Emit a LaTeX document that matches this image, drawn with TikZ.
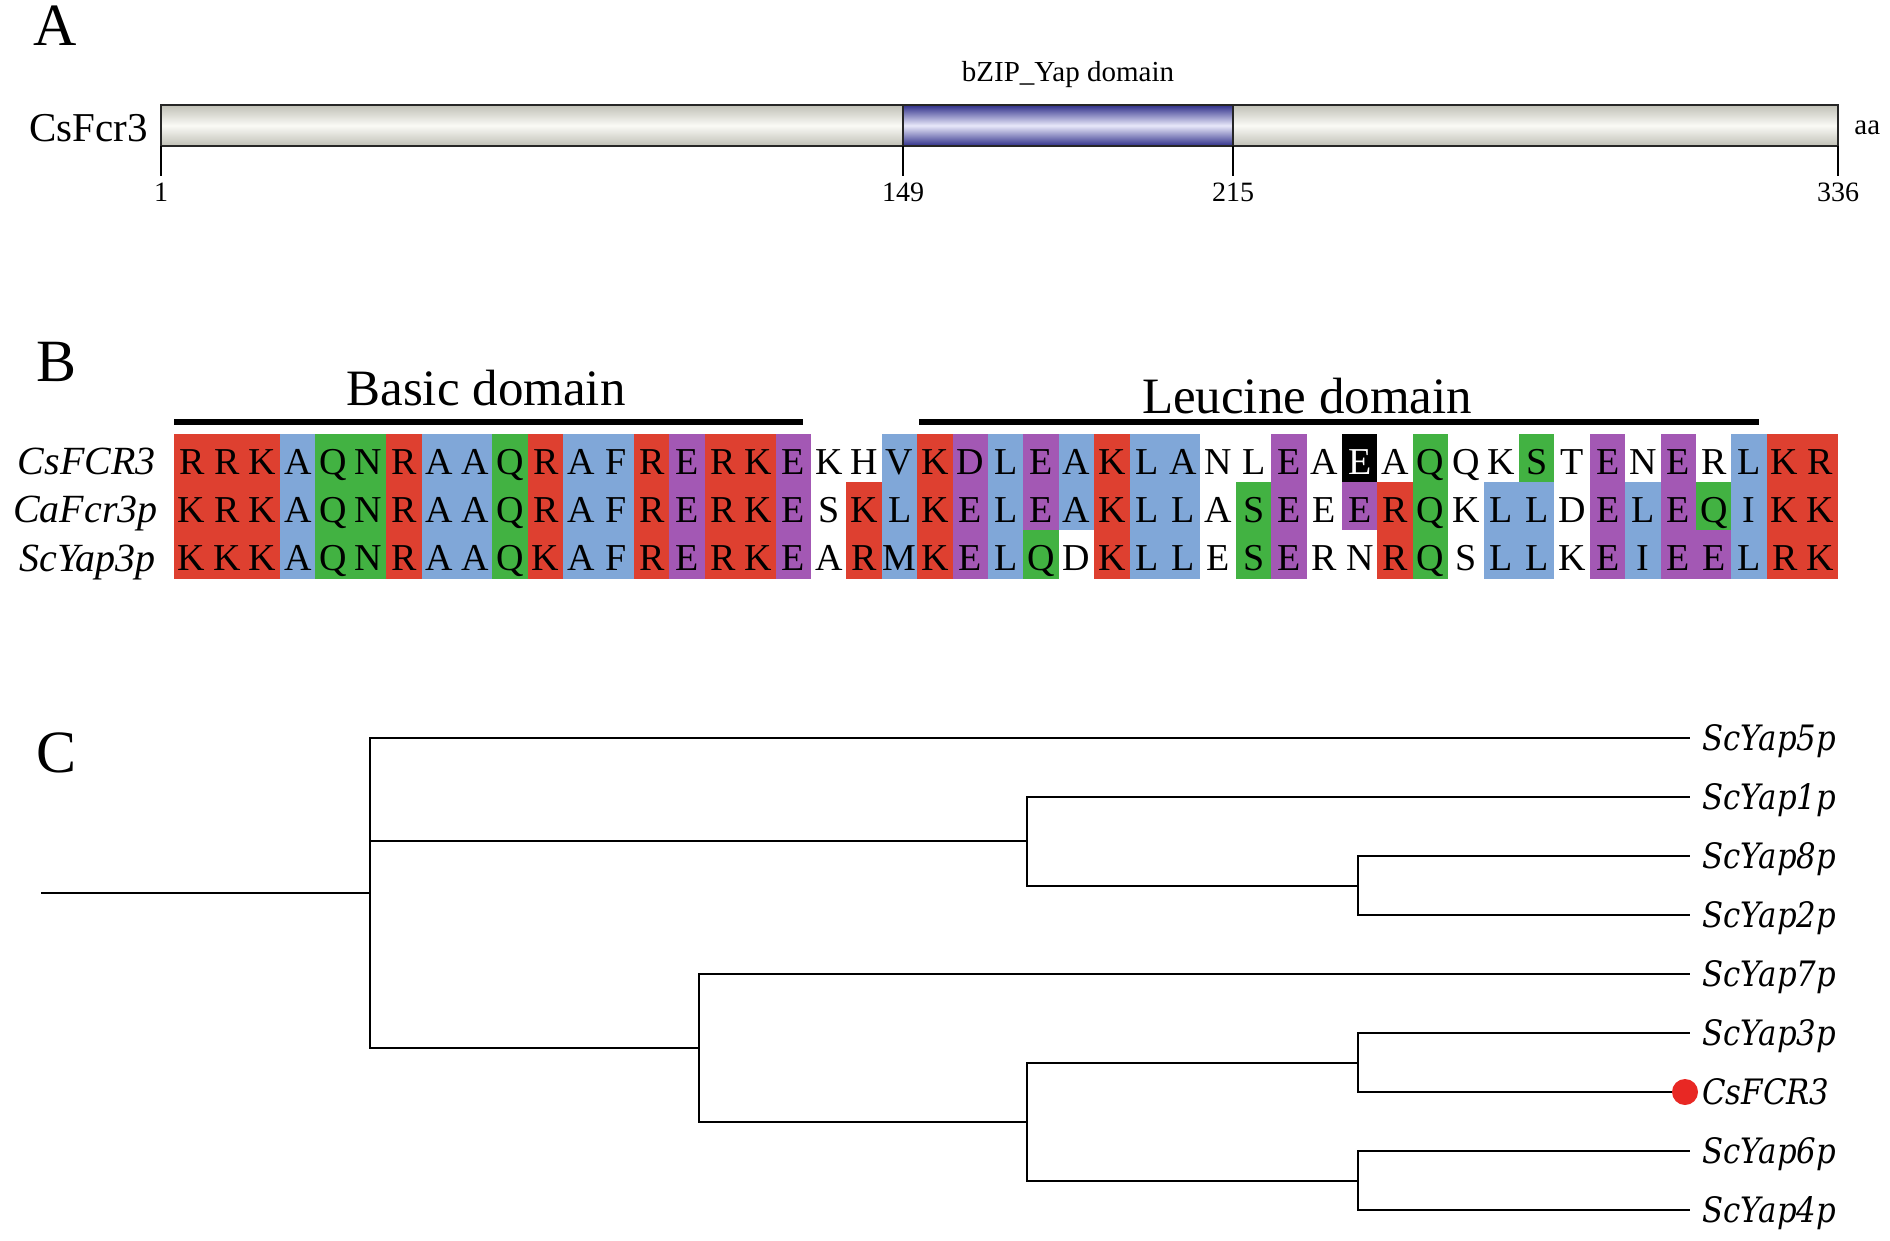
\documentclass[tikz,border=0pt]{standalone}
\usepackage{fontspec}
\setmainfont{Liberation Serif}
\newfontfamily\treefont[FakeStretch=0.88]{DejaVu Serif}
\usepackage{xcolor}
\usetikzlibrary{positioning}

\definecolor{barGrey}{RGB}{192,192,182}
\definecolor{barLight}{RGB}{250,250,246}
\definecolor{domBlue}{RGB}{48,48,138}
\definecolor{domLight}{RGB}{232,232,250}
\definecolor{dotRed}{RGB}{232,40,36}
\definecolor{fillr}{RGB}{222,64,48}
\definecolor{fillb}{RGB}{128,167,216}
\definecolor{fillg}{RGB}{66,178,66}
\definecolor{fillp}{RGB}{163,88,180}
\colorlet{fillw}{white}
\colorlet{fillk}{black}
\colorlet{textr}{black}
\colorlet{textb}{black}
\colorlet{textg}{black}
\colorlet{textp}{black}
\colorlet{textw}{black}
\colorlet{textk}{white}

\def\seqFcr{R/r,R/r,K/r,A/b,Q/g,N/g,R/r,A/b,A/b,Q/g,R/r,A/b,F/b,R/r,E/p,R/r,K/r,E/p,K/w,H/w,V/b,K/r,D/p,L/b,E/p,A/b,K/r,L/b,A/b,N/w,L/w,E/p,A/w,E/k,A/w,Q/g,Q/w,K/w,S/g,T/w,E/p,N/w,E/p,R/w,L/b,K/r,R/r}
\def\seqCa{K/r,R/r,K/r,A/b,Q/g,N/g,R/r,A/b,A/b,Q/g,R/r,A/b,F/b,R/r,E/p,R/r,K/r,E/p,S/w,K/r,L/b,K/r,E/p,L/b,E/p,A/b,K/r,L/b,L/b,A/w,S/g,E/p,E/w,E/p,R/r,Q/g,K/w,L/b,L/b,D/w,E/p,L/b,E/p,Q/g,I/b,K/r,K/r}
\def\seqSc{K/r,K/r,K/r,A/b,Q/g,N/g,R/r,A/b,A/b,Q/g,K/r,A/b,F/b,R/r,E/p,R/r,K/r,E/p,A/w,R/r,M/b,K/r,E/p,L/b,Q/g,D/w,K/r,L/b,L/b,E/w,S/g,E/p,R/w,N/w,R/r,Q/g,S/w,L/b,L/b,K/w,E/p,I/b,E/p,E/p,L/b,R/r,K/r}

\begin{document}
\begin{tikzpicture}[
    x=0.5pt, y=-0.5pt,
    panel/.style={anchor=base, inner sep=0pt, font=\fontsize{30}{36}\selectfont},
    protname/.style={anchor=base east, inner sep=0pt, font=\fontsize{20.5}{24}\selectfont},
    small/.style={anchor=base, inner sep=0pt, font=\fontsize{14.5}{17}\selectfont},
    num/.style={anchor=base, font=\fontsize{14}{16}\selectfont},
    tick/.style={line width=0.7pt},
    outline/.style={line width=1.1pt, draw=black!85},
    greybar/.style={top color=barGrey, bottom color=barGrey, middle color=barLight},
    bluebar/.style={top color=domBlue, bottom color=domBlue, middle color=domLight},
    domtitle/.style={anchor=base, inner sep=0pt, font=\fontsize{25.5}{30}\selectfont},
    domline/.style={line width=3pt},
    seqname/.style={anchor=base east, inner sep=0pt, font=\itshape\fontsize{20}{24}\selectfont},
    cell/.style={fill=fill#1, text=text#1, minimum width=17.9pt, minimum height=24.4pt,
      inner sep=0pt, text height=16pt, text depth=0pt, font=\fontsize{19}{22}\selectfont},
    branch/.style={line width=1pt},
    leaf/.style={anchor=west, inner xsep=6pt, inner ysep=0pt, text height=12.8pt, text depth=0pt,
      font=\treefont\itshape\fontsize{17.5}{20}\selectfont},
    dot/.style={circle, fill=dotRed, inner sep=0pt, minimum size=13pt}
  ]
    \useasboundingbox (0,0) rectangle (1890,1241);

    \node[panel] (pa) at (55,46) {A};
    \shade[greybar] (161,105) rectangle (903,146);
    \shade[bluebar] (903,105) rectangle (1233,146);
    \shade[greybar] (1233,105) rectangle (1838,146);
    \draw[outline] (161,105) rectangle (1838,146);
    \draw[outline, line width=0.7pt] (903,105) -- (903,146);
    \draw[outline, line width=0.7pt] (1233,105) -- (1233,146);
    \node[protname] (prot) at (148,142) {CsFcr3};
    \node[small] (bzip) at (1068,82) {bZIP\_Yap domain};
    \node[small, anchor=base west] (aa) at (1854,135) {aa};
    \coordinate (b1) at (161,146);
    \coordinate (b149) at (903,146);
    \coordinate (b215) at (1233,146);
    \coordinate (b336) at (1838,146);
    \node[num] (p1) at (161,202) {1};
    \node[num] (p149) at (903,202) {149};
    \node[num] (p215) at (1233,202) {215};
    \node[num] (p336) at (1838,202) {336};
    \draw[tick] (b1) -- (p1.north);
    \draw[tick] (b149) -- (p149.north);
    \draw[tick] (b215) -- (p215.north);
    \draw[tick] (b336) -- (p336.north);

    \node[panel] (pb) at (57,381) {B};
    \node[domtitle] (basic) at (486,405) {Basic domain};
    \node[domtitle] (leucine) at (1307,413) {Leucine domain};
    \coordinate (bs) at (174,422);
    \coordinate (be) at (803,422);
    \coordinate (ls) at (919,422);
    \coordinate (le) at (1759,422);
    \draw[domline] (bs) -- (be);
    \draw[domline] (ls) -- (le);
    \foreach \res/\cl [count=\i] in \seqFcr
      \node[cell=\cl] (fcr\i) at ({174+(\i-0.5)*35.4},458) {\res};
    \foreach \res/\cl [count=\i] in \seqCa
      \node[cell=\cl] (ca\i) at ({174+(\i-0.5)*35.4},506.3) {\res};
    \foreach \res/\cl [count=\i] in \seqSc
      \node[cell=\cl] (sc\i) at ({174+(\i-0.5)*35.4},554.7) {\res};
    \node[seqname] (nfcr) at (156,474) {CsFCR3};
    \node[seqname] (nca) at (158,522) {CaFcr3p};
    \node[seqname] (nsc) at (156,571) {ScYap3p};

    \node[panel] (pc) at (57,772) {C};
    \coordinate (root) at (41,893);
    \coordinate (n1) at (370,893);
    \coordinate (n2) at (1027,841);
    \coordinate (n3) at (1358,885.5);
    \coordinate (n5) at (699,1047.75);
    \coordinate (n6) at (1027,1121.5);
    \coordinate (n7) at (1358,1062.5);
    \coordinate (n8) at (1358,1180.5);
    \node[leaf] (yap5) at (1690,738) {ScYap5p};
    \node[leaf] (yap1) at (1690,797) {ScYap1p};
    \node[leaf] (yap8) at (1690,856) {ScYap8p};
    \node[leaf] (yap2) at (1690,915) {ScYap2p};
    \node[leaf] (yap7) at (1690,974) {ScYap7p};
    \node[leaf] (yap3) at (1690,1033) {ScYap3p};
    \node[leaf] (fcr) at (1690,1092) {CsFCR3};
    \node[leaf] (yap6) at (1690,1151) {ScYap6p};
    \node[leaf] (yap4) at (1690,1210) {ScYap4p};
    \draw[branch] (root) -- (n1);
    \draw[branch] (n1) |- (yap5.west);
    \draw[branch] (n1) |- (n2);
    \draw[branch] (n1) |- (n5);
    \draw[branch] (n2) |- (yap1.west);
    \draw[branch] (n2) |- (n3);
    \draw[branch] (n3) |- (yap8.west);
    \draw[branch] (n3) |- (yap2.west);
    \draw[branch] (n5) |- (yap7.west);
    \draw[branch] (n5) |- (n6);
    \draw[branch] (n6) |- (n7);
    \draw[branch] (n6) |- (n8);
    \draw[branch] (n7) |- (yap3.west);
    \draw[branch] (n7) |- (fcr.west);
    \draw[branch] (n8) |- (yap6.west);
    \draw[branch] (n8) |- (yap4.west);
    \node[dot] (mark) at (1685,1092) {};
  \end{tikzpicture}
\end{document}
